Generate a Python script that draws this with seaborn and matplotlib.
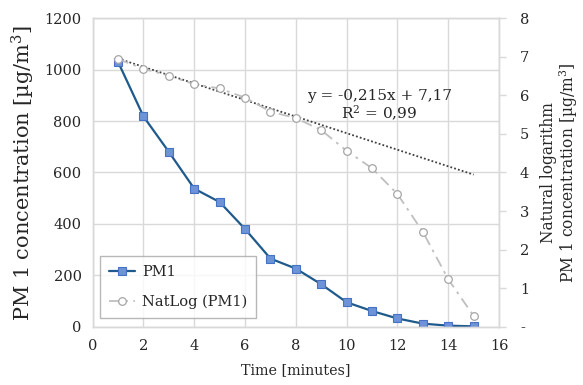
import matplotlib
matplotlib.use("Agg")
import matplotlib.pyplot as plt
import matplotlib.ticker as mticker
import seaborn as sns
import numpy as np
import pandas as pd

time_min = [1, 2, 3, 4, 5, 6, 7, 8, 9, 10, 11, 12, 13, 14, 15]
pm1 = [1030, 818, 680, 537, 485, 380, 265, 226, 165, 95, 61, 32, 12, 4, 1.5]
natlog_pm1 = [6.94, 6.69, 6.51, 6.29, 6.18, 5.94, 5.58, 5.41, 5.10, 4.56, 4.11, 3.44, 2.46, 1.23, 0.28]
trend_slope = [-0.215]
trend_intercept = [7.17]
trend_text = "y = -0,215x + 7,17\nR$^2$ = 0,99"

sns.set_style("white")
plt.rcParams['font.family'] = ['DejaVu Serif']
plt.rcParams['mathtext.fontset'] = 'dejavuserif'

df = pd.DataFrame({"Time": time_min, "PM1": pm1, "NatLog": natlog_pm1})

fig = plt.figure(figsize=(5.83, 3.85), dpi=100)
ax = fig.add_axes([0.159, 0.1514, 0.697, 0.8011])
ax2 = ax.twinx()

grid_c = "#D9D9D9"
ax.set_xlim(0, 16)
ax.set_ylim(0, 1200)
ax.set_xticks(np.arange(0, 17, 2))
ax.set_yticks(np.arange(0, 1201, 200))
ax.grid(True, color=grid_c, linewidth=1.0)
ax.set_axisbelow(True)

sns.lineplot(data=df, x="Time", y="PM1", ax=ax, color="#1F5A8C", linewidth=1.6,
             marker="s", markersize=6, markerfacecolor="#6E93D6",
             markeredgecolor="#4472C4", markeredgewidth=0.8, label="PM1", legend=False)

trend = np.array(trend_slope[0]) * np.array(time_min) + trend_intercept[0]
sns.lineplot(x=time_min, y=trend, ax=ax2, color="#404040", linewidth=1.3,
             linestyle=(0, (1, 1.2)), legend=False)
sns.lineplot(data=df, x="Time", y="NatLog", ax=ax2, color="#BFBFBF", linewidth=1.3,
             linestyle=(0, (6, 3, 1.5, 3)), marker="o", markersize=5.5,
             markerfacecolor="white", markeredgecolor="#A6A6A6",
             markeredgewidth=0.9, label="NatLog (PM1)", legend=False)

ax2.set_ylim(0, 8)
ax2.set_yticks(np.arange(0, 9, 1))
ax2.yaxis.set_major_formatter(mticker.FuncFormatter(lambda v, p: "-" if v == 0 else f"{int(v)}"))
ax2.grid(False)

for a in (ax, ax2):
    for s in a.spines.values():
        s.set_color(grid_c)
        s.set_linewidth(1.0)
    a.set_xlabel("")
    a.set_ylabel("")

fs = 10.5
ax.tick_params(axis="x", length=0, pad=9, labelsize=fs, labelcolor="#262626")
ax.tick_params(axis="y", length=0, pad=8, labelsize=fs, labelcolor="#262626")
ax2.tick_params(axis="y", length=5, width=1, color=grid_c, pad=10, labelsize=fs, labelcolor="#262626")

ax.set_xlabel("Time [minutes]", fontsize=10.3, color="#262626", labelpad=7)
ax.set_ylabel("PM 1 concentration [µg/m$^3$]", fontsize=15, color="#262626", labelpad=5)
ax2.set_ylabel("Natural logarithm\nPM 1 concentration [µg/m$^3$]", fontsize=11.2,
               color="#262626", labelpad=8, linespacing=1.0)

ax.text(0.705, 0.716, trend_text, transform=ax.transAxes, ha="center", va="center",
        fontsize=11, color="#262626", linespacing=1.05)

h1, l1 = ax.get_legend_handles_labels()
h2, l2 = ax2.get_legend_handles_labels()
leg = ax2.legend(h1 + h2, l1 + l2, loc="lower left", bbox_to_anchor=(0.018, 0.028),
                 fontsize=10.5, frameon=True, fancybox=False, borderpad=0.6,
                 handlelength=1.8, handletextpad=0.5, labelspacing=1.1, borderaxespad=0)
leg.get_frame().set_edgecolor("#A6A6A6")
leg.get_frame().set_linewidth(1.0)
for t in leg.get_texts():
    t.set_color("#262626")

fig.savefig("out.png", dpi=100)
